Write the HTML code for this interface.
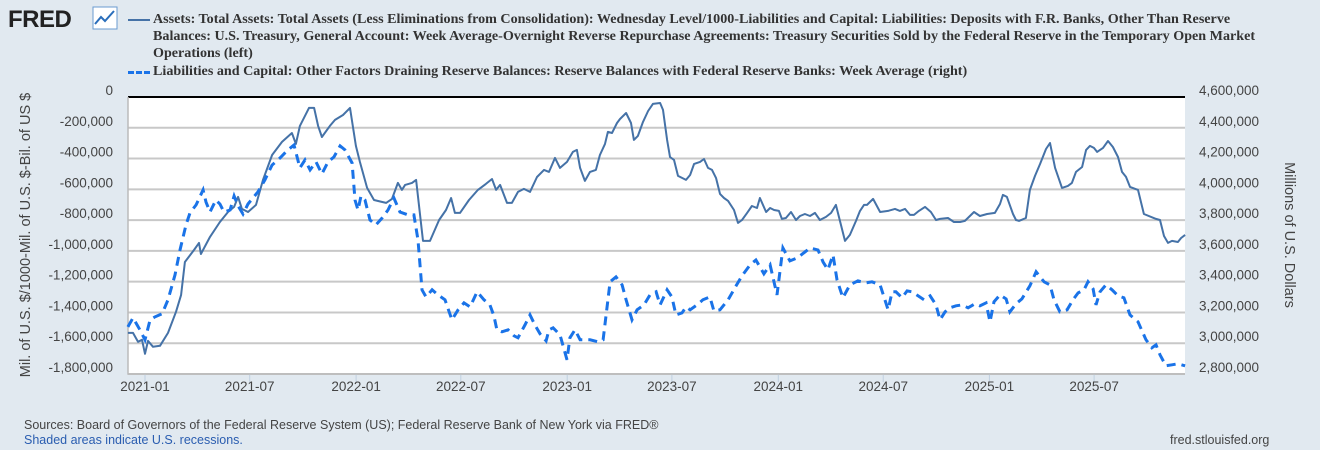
<!DOCTYPE html>
<html><head><meta charset="utf-8">
<style>
body{margin:0;width:1320px;height:450px;background:#e1e9f0;font-family:"Liberation Sans",sans-serif;overflow:hidden;position:relative}
.lg{position:absolute;left:153px;font-size:14.1px;font-weight:bold;color:#333;line-height:17px;font-family:"Liberation Serif",serif;width:1105px}
.sw{position:absolute;left:-25px;top:8px;width:22px}
svg{position:absolute;left:0;top:0}
</style></head><body>
<div style="position:absolute;left:8px;top:6px;font-size:24px;font-weight:900;color:#222;letter-spacing:-0.5px">FRED</div>
<svg width="30" height="26" style="left:92px;top:6px"><rect x="1" y="1" width="24" height="22" fill="#fff" stroke="#6a9bd1"/><polyline points="3,18 9,11 13,15 22,5" fill="none" stroke="#2a6ebb" stroke-width="2"/></svg>
<div class="lg" style="top:11px"><span class="sw" style="border-top:2px solid #4572a7"></span>Assets: Total Assets: Total Assets (Less Eliminations from Consolidation): Wednesday Level/1000-Liabilities and Capital: Liabilities: Deposits with F.R. Banks, Other Than Reserve Balances: U.S. Treasury, General Account: Week Average-Overnight Reverse Repurchase Agreements: Treasury Securities Sold by the Federal Reserve in the Temporary Open Market Operations (left)</div>
<div class="lg" style="top:63px"><span class="sw" style="border-top:3px dashed #1a73e8"></span>Liabilities and Capital: Other Factors Draining Reserve Balances: Reserve Balances with Federal Reserve Banks: Week Average (right)</div>
<svg id="chart" width="1320" height="450"></svg>
<div style="position:absolute;left:24px;top:418px;font-size:12.5px;color:#444">Sources: Board of Governors of the Federal Reserve System (US); Federal Reserve Bank of New York via FRED®</div>
<div style="position:absolute;left:24px;top:433px;font-size:12.5px;color:#2a5db0">Shaded areas indicate U.S. recessions.</div>
<div style="position:absolute;left:1170px;top:433px;font-size:12.5px;color:#444">fred.stlouisfed.org</div>
<script>
const leftTicks=["0","-200,000","-400,000","-600,000","-800,000","-1,000,000","-1,200,000","-1,400,000","-1,600,000","-1,800,000"];
const leftTickVals=[0,-200,-400,-600,-800,-1000,-1200,-1400,-1600,-1800];
const rightTicks=["4,600,000","4,400,000","4,200,000","4,000,000","3,800,000","3,600,000","3,400,000","3,200,000","3,000,000","2,800,000"];
const rightTickVals=[4600,4400,4200,4000,3800,3600,3400,3200,3000,2800];
const xTickLabels=["2021-01","2021-07","2022-01","2022-07","2023-01","2023-07","2024-01","2024-07","2025-01","2025-07"];
const xTickDates=[2021.0,2021.496,2022.0,2022.496,2023.0,2023.496,2024.0,2024.497,2025.0,2025.496];
// solid series (thousands, left axis)
const assetDates=[2020.919,2020.943,2020.967,2020.986,2021.000,2021.014,2021.038,2021.071,2021.109,2021.147,2021.171,2021.189,2021.232,2021.256,2021.265,2021.308,2021.355,2021.393,2021.422,2021.441,2021.459,2021.488,2021.526,2021.559,2021.602,2021.649,2021.696,2021.715,2021.734,2021.777,2021.801,2021.820,2021.838,2021.876,2021.900,2021.938,2021.971,2021.999,2022.018,2022.052,2022.085,2022.142,2022.170,2022.198,2022.217,2022.232,2022.265,2022.284,2022.317,2022.350,2022.393,2022.426,2022.450,2022.468,2022.492,2022.535,2022.577,2022.615,2022.644,2022.663,2022.682,2022.715,2022.738,2022.767,2022.795,2022.824,2022.857,2022.890,2022.914,2022.942,2022.966,2022.999,2023.027,2023.046,2023.061,2023.084,2023.108,2023.136,2023.155,2023.179,2023.193,2023.212,2023.236,2023.250,2023.279,2023.302,2023.316,2023.335,2023.359,2023.383,2023.406,2023.440,2023.454,2023.473,2023.487,2023.506,2023.525,2023.563,2023.582,2023.601,2023.629,2023.648,2023.667,2023.686,2023.705,2023.724,2023.743,2023.762,2023.790,2023.809,2023.828,2023.852,2023.875,2023.899,2023.913,2023.942,2023.961,2023.980,2024.003,2024.017,2024.036,2024.060,2024.084,2024.103,2024.126,2024.150,2024.174,2024.197,2024.226,2024.250,2024.273,2024.316,2024.339,2024.368,2024.387,2024.406,2024.420,2024.449,2024.482,2024.520,2024.553,2024.576,2024.600,2024.624,2024.643,2024.666,2024.695,2024.723,2024.747,2024.766,2024.804,2024.832,2024.861,2024.884,2024.927,2024.955,2024.989,2025.026,2025.050,2025.064,2025.083,2025.112,2025.126,2025.140,2025.173,2025.192,2025.216,2025.240,2025.268,2025.287,2025.311,2025.344,2025.372,2025.391,2025.410,2025.439,2025.458,2025.476,2025.495,2025.510,2025.538,2025.562,2025.585,2025.609,2025.628,2025.647,2025.666,2025.704,2025.732,2025.789,2025.808,2025.827,2025.846,2025.865,2025.893,2025.908,2025.927];
const assetVals=[-1533,-1533,-1591,-1578,-1669,-1585,-1623,-1617,-1533,-1396,-1286,-1072,-994,-948,-1020,-909,-812,-747,-714,-649,-727,-747,-701,-539,-377,-292,-234,-305,-188,-71,-71,-188,-260,-188,-149,-117,-71,-318,-422,-591,-669,-688,-662,-558,-604,-571,-558,-539,-935,-935,-799,-734,-656,-753,-753,-669,-604,-565,-533,-604,-571,-688,-688,-617,-597,-617,-520,-474,-487,-396,-461,-422,-357,-344,-461,-545,-487,-474,-377,-305,-227,-234,-169,-143,-104,-169,-279,-253,-162,-91,-45,-39,-84,-279,-390,-409,-513,-539,-507,-435,-422,-403,-461,-474,-526,-630,-656,-675,-734,-818,-799,-753,-708,-721,-656,-747,-721,-734,-740,-792,-786,-747,-799,-773,-760,-773,-753,-799,-779,-753,-701,-935,-896,-805,-740,-701,-701,-662,-747,-740,-727,-740,-727,-766,-766,-740,-714,-747,-799,-792,-786,-812,-812,-805,-747,-773,-760,-753,-695,-636,-649,-760,-799,-805,-786,-604,-513,-435,-338,-299,-461,-591,-578,-558,-487,-455,-344,-318,-331,-357,-331,-286,-325,-390,-487,-519,-584,-604,-760,-792,-799,-903,-948,-935,-942,-916,-896,-922];
// dashed series (thousands, right axis)
const reserveDates=[2020.919,2020.943,2020.976,2021.000,2021.024,2021.047,2021.081,2021.109,2021.142,2021.166,2021.194,2021.213,2021.242,2021.275,2021.289,2021.308,2021.336,2021.355,2021.374,2021.403,2021.422,2021.441,2021.464,2021.488,2021.535,2021.568,2021.602,2021.640,2021.677,2021.706,2021.734,2021.758,2021.782,2021.810,2021.838,2021.867,2021.895,2021.924,2021.947,2021.981,2021.995,2022.009,2022.023,2022.042,2022.066,2022.094,2022.123,2022.151,2022.179,2022.208,2022.246,2022.274,2022.293,2022.312,2022.331,2022.360,2022.388,2022.421,2022.454,2022.483,2022.511,2022.540,2022.573,2022.606,2022.634,2022.653,2022.667,2022.691,2022.720,2022.748,2022.767,2022.800,2022.824,2022.847,2022.871,2022.900,2022.914,2022.933,2022.966,2022.999,2023.013,2023.037,2023.061,2023.108,2023.146,2023.170,2023.203,2023.231,2023.260,2023.279,2023.307,2023.331,2023.364,2023.392,2023.421,2023.440,2023.473,2023.496,2023.515,2023.544,2023.563,2023.582,2023.615,2023.643,2023.676,2023.695,2023.724,2023.762,2023.800,2023.828,2023.866,2023.894,2023.932,2023.961,2023.994,2024.022,2024.055,2024.089,2024.126,2024.150,2024.188,2024.212,2024.235,2024.259,2024.278,2024.306,2024.339,2024.377,2024.415,2024.444,2024.482,2024.505,2024.520,2024.539,2024.557,2024.586,2024.610,2024.633,2024.662,2024.690,2024.719,2024.747,2024.766,2024.790,2024.813,2024.842,2024.870,2024.899,2024.932,2024.955,2024.984,2025.003,2025.022,2025.050,2025.079,2025.097,2025.126,2025.154,2025.192,2025.221,2025.240,2025.259,2025.287,2025.306,2025.334,2025.368,2025.396,2025.420,2025.448,2025.467,2025.491,2025.505,2025.524,2025.552,2025.581,2025.609,2025.637,2025.666,2025.704,2025.742,2025.770,2025.789,2025.808,2025.836,2025.865,2025.893,2025.927];
const reserveVals=[3106,3165,3087,3022,3152,3171,3191,3282,3444,3606,3769,3847,3899,3996,3918,3853,3931,3905,3853,3866,3957,3892,3840,3905,3983,4061,4158,4204,4256,4288,4139,4191,4126,4178,4100,4178,4210,4282,4256,4171,3931,3866,3957,3931,3801,3769,3814,3866,3944,3853,3834,3834,3671,3347,3301,3347,3314,3282,3152,3217,3262,3236,3334,3282,3249,3178,3087,3074,3087,3048,3035,3119,3184,3119,3061,3015,3087,3100,3054,2892,3035,3087,3022,3022,3009,3022,3399,3431,3379,3282,3152,3217,3249,3314,3334,3249,3347,3301,3184,3197,3236,3217,3249,3282,3301,3210,3217,3282,3373,3438,3509,3541,3451,3509,3314,3619,3535,3554,3593,3619,3606,3528,3477,3574,3412,3295,3379,3405,3392,3399,3379,3282,3217,3334,3334,3295,3340,3334,3308,3282,3308,3249,3152,3204,3230,3243,3249,3230,3256,3243,3262,3139,3269,3314,3288,3204,3256,3288,3373,3464,3431,3399,3379,3282,3204,3217,3282,3327,3347,3399,3353,3249,3334,3379,3347,3308,3295,3184,3139,3022,2970,2990,2925,2853,2860,2866,2853];

const svg=document.getElementById('chart');
const NS='http://www.w3.org/2000/svg';
const X0=128,X1=1185,Y0=97,Y1=374;
function xs(t){return 145+(t-2021)*211.1;}
function yl(v){return Y0+(0-v)/1800*(Y1-Y0);}
function yr(v){return Y0+(4600-v)/1800*(Y1-Y0);}
function mk(tag,attrs){const e=document.createElementNS(NS,tag);for(const k in attrs)e.setAttribute(k,attrs[k]);svg.appendChild(e);return e;}
const bg=mk('rect',{x:X0,y:Y0,width:X1-X0,height:Y1-Y0,fill:'#fff'});


leftTickVals.forEach((v,i)=>{
  const y=yl(v);
  if(i>0){const g=mk('line',{x1:X0,x2:X1,y1:y,y2:y,stroke:'#c8c8c8','stroke-width':2});
  
  }
  const t=mk('text',{x:113,y:y-2,'text-anchor':'end','font-size':13.5,fill:'#444'});t.textContent=leftTicks[i];
  
  
});
rightTickVals.forEach((v,i)=>{
  const t=mk('text',{x:1199,y:yr(v)-2,'text-anchor':'start','font-size':13.5,fill:'#444'});t.textContent=rightTicks[i];
  
  
});
xTickDates.forEach((d,i)=>{
  const x=xs(d);
  const tk=mk('line',{x1:x,x2:x,y1:Y1,y2:Y1+8,stroke:'#c0d0e0','stroke-width':1});
  
  
  const t=mk('text',{x:x,y:Y1+17,'text-anchor':'middle','font-size':13.5,fill:'#444'});t.textContent=xTickLabels[i];
  
  
});
const topl=mk('line',{x1:X0,x2:X1,y1:Y0,y2:Y0,stroke:'#000','stroke-width':2});


const ax=mk('path',{d:`M${X0},${Y0}V${Y1}H${X1}`,stroke:'#bbb',fill:'none','stroke-width':1.5});


const p1=mk('polyline',{points:assetDates.map((d,i)=>xs(d).toFixed(1)+','+yl(assetVals[i]).toFixed(1)).join(' '),fill:'none',stroke:'#4572a7','stroke-width':2,'stroke-linejoin':'round'});


const p2=mk('polyline',{points:reserveDates.map((d,i)=>xs(d).toFixed(1)+','+yr(reserveVals[i]).toFixed(1)).join(' '),fill:'none',stroke:'#1a73e8','stroke-width':3,'stroke-dasharray':'9,6'});


const lt=mk('text',{transform:'translate(30,235) rotate(-90)','text-anchor':'middle','font-size':14.5,fill:'#444'});lt.textContent='Mil. of U.S. $/1000-Mil. of U.S. $-Bil. of US $';


const rt=mk('text',{transform:'translate(1285,235) rotate(90)','text-anchor':'middle','font-size':14.5,fill:'#444'});rt.textContent='Millions of U.S. Dollars';


</script>
</body></html>
